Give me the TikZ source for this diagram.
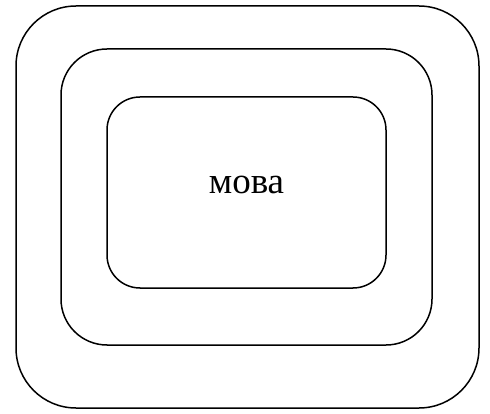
\documentclass[tikz,border=0pt]{standalone}
\usepackage{fontspec}
\setmainfont{Liberation Serif}
\usetikzlibrary{positioning}

\begin{document}
\begin{tikzpicture}[x=1pt,y=-1pt,
	layer/.style={
		draw=black, line width=1.5pt, inner sep=0pt, outer sep=0pt
	},
	word/.style={
		font=\fontsize{37}{40}\selectfont, inner sep=0pt
	}
	]
	\useasboundingbox (0,0) rectangle (490,414);
	\node[layer,rounded corners=60pt,minimum width=463pt,minimum height=402pt] (outer) at (247.5,207) {};
	\node[layer,rounded corners=46pt,minimum width=371pt,minimum height=296pt] (middle) at (246.5,197) {};
	\node[layer,rounded corners=33pt,minimum width=279pt,minimum height=191pt] (inner) at (246.5,192.5) {};
	\node[word] (lang) at (246.5,185) {мова};
\end{tikzpicture}
\end{document}
